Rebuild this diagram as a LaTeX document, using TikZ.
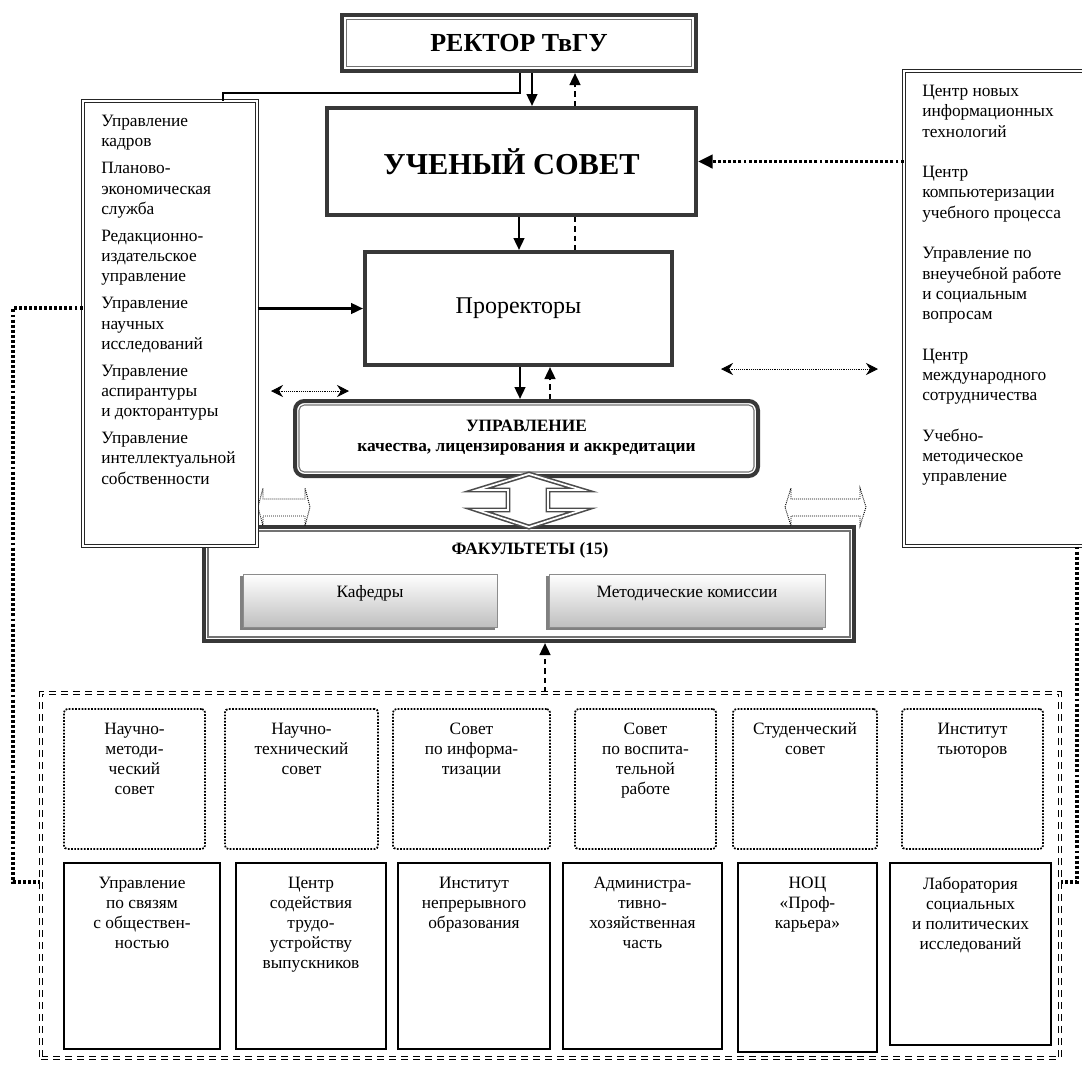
\documentclass[tikz,border=0pt]{standalone}
\usepackage{fontspec}
\setmainfont{Liberation Serif}
\usetikzlibrary{arrows.meta,fit,calc}
\tikzset{
  thickbox/.style={draw=black!78, line width=3pt, fill=white, inner sep=0pt},
  innerline/.style={draw=black!55, line width=0.8pt},
  dblthin/.style={draw=black!85, line width=0.75pt, double=white, double distance=1.3pt, fill=white, inner sep=0pt},
  dotbox/.style={draw=black, line width=1.3pt, dash pattern=on 1.3pt off 1.1pt, rounded corners=2.5pt, inner sep=0pt},
  solbox/.style={draw=black, line width=1.3pt, inner sep=0pt},
  contbox/.style={draw=black, line width=1pt, double=white, double distance=1.4pt, dash pattern=on 5.5pt off 3.5pt, inner sep=0pt},
  grbox/.style={draw=black!45, line width=0.6pt, top color=white, bottom color=black!25, inner sep=0pt},
  txt/.style={font=\fontsize{13}{15}\selectfont, inner sep=0pt, align=center},
  ltxt/.style={font=\fontsize{13}{15.2}\selectfont, inner sep=0pt, align=left},
  sarrow/.style={line width=1.8pt, -{Triangle[length=9pt,width=8pt]}},
  darrow/.style={line width=1.8pt, dash pattern=on 4pt off 3pt, -{Triangle[length=9pt,width=8pt]}},
  dline/.style={line width=1.5pt, dash pattern=on 4pt off 3pt},
  thickdot/.style={line width=2.6pt, dash pattern=on 2.2pt off 1.6pt},
  thindbl/.style={line width=0.6pt, dash pattern=on 0.6pt off 0.8pt, {Stealth[length=9pt,width=9pt,inset=3pt]}-{Stealth[length=9pt,width=9pt,inset=3pt]}},
  hollow/.style={draw=black!70, line width=1.2pt, double=white, double distance=1.3pt, line join=miter, fill=white},
  hollowdot/.style={draw=black, line width=0.7pt, dash pattern=on 0.7pt off 0.8pt, fill=white},
}
\begin{document}
\begin{tikzpicture}[x=0.75pt,y=-0.75pt]
\useasboundingbox (0,0) rectangle (1082,1068);
\fill[white] (0,0) rectangle (1082,1068);

% column helpers
\coordinate (x519) at (519,0);
\coordinate (x520) at (520,0);
\coordinate (x532) at (532,0);
\coordinate (x545) at (545,0);
\coordinate (x550) at (550,0);
\coordinate (x575) at (575,0);

% Rector
\node[thickbox, fit={(342,15)(696,71)}] (rect) {};
\draw[innerline] ($(rect.south west)+(5pt,5pt)$) rectangle ($(rect.north east)+(-5pt,-5pt)$);
\node[font=\fontsize{19.5}{22}\selectfont\bfseries, inner sep=0pt] (recttxt) at (rect.center) {РЕКТОР ТвГУ};

% Academic council
\node[thickbox, fit={(327,108)(696,215)}] (us) {};
\node[font=\fontsize{22.8}{26}\selectfont\bfseries, inner sep=0pt] (ustxt) at (us.center) {УЧЕНЫЙ СОВЕТ};

% Vice-rectors
\node[thickbox, fit={(365,252)(672,365)}] (pr) {};
\node[font=\fontsize{18}{20}\selectfont, inner sep=0pt] (prtxt) at (pr.center) {Проректоры};

% Quality management
\node[thickbox, rounded corners=7pt, fit={(295,401)(758,476)}] (upr) {};
\draw[innerline, rounded corners=4pt] ($(upr.south west)+(4.5pt,4.5pt)$) rectangle ($(upr.north east)+(-4.5pt,-4.5pt)$);
\node[align=center, font=\fontsize{13}{15}\selectfont\bfseries, inner sep=0pt] (uprtxt) at ([yshift=1pt]upr.center) {УПРАВЛЕНИЕ\\качества, лицензирования и аккредитации};

% Faculties
\node[thickbox, fit={(204,527)(854,641)}] (fac) {};
\draw[innerline] ($(fac.south west)+(4.5pt,4.5pt)$) rectangle ($(fac.north east)+(-4.5pt,-4.5pt)$);
\node[font=\fontsize{13}{15}\selectfont\bfseries, inner sep=0pt] (factitle) at (530,550) {ФАКУЛЬТЕТЫ (15)};
\fill[black!50] (240,576) rectangle (495,630);
\fill[black!50] (546,576) rectangle (823,630);
\node[grbox, fit={(243,574)(497,627)}] (kaf) {};
\node[grbox, fit={(549,574)(825,627)}] (met) {};
\node[txt] (kaftxt) at (370,593) {Кафедры};
\node[txt] (mettxt) at (687,593) {Методические комиссии};

% big hollow double arrow
\draw[hollow] (529,474) -- (582,490) -- (548,490) -- (548,510) -- (582,510) -- (529,527) -- (477,510) -- (508,510) -- (508,490) -- (477,490) -- cycle;

% small hollow dotted double arrows
\draw[hollowdot] (258,507) -- (263,488) -- (263,499) -- (305,499) -- (305,488) -- (310,507) -- (305,526) -- (305,516) -- (263,516) -- (263,526) -- cycle;
\draw[hollowdot] (785,507) -- (791,488) -- (791,499) -- (860,499) -- (860,488) -- (866,507) -- (860,526) -- (860,516) -- (791,516) -- (791,526) -- cycle;

% Left box
\node[dblthin, fit={(83,101)(257,546)}] (lbox) {};
\node[ltxt, anchor=north west] (ltx) at (101,115) {Управление\\кадров\\[5pt]Планово-\\экономическая\\служба\\[5pt]Редакционно-\\издательское\\управление\\[5pt]Управление\\научных\\исследований\\[5pt]Управление\\аспирантуры\\и докторантуры\\[5pt]Управление\\интеллектуальной\\собственности};

% Right box
\node[dblthin, fit={(904,71)(1100,546)}] (rbox) {};
\node[ltxt, anchor=north west] (rtx) at (922,85) {Центр новых\\информационных\\технологий\\[15.2pt]Центр\\компьютеризации\\учебного процесса\\[15.2pt]Управление по\\внеучебной работе\\и социальным\\вопросам\\[15.2pt]Центр\\международного\\сотрудничества\\[15.2pt]Учебно-\\методическое\\управление};

% Container of councils
\node[contbox, fit={(41,693)(1060,1058)}] (cont) {};

\foreach \n/\a/\b/\t in {
  r1a/64/205/{Научно-\\методи-\\ческий\\совет},
  r1b/225/378/{Научно-\\технический\\совет},
  r1c/393/550/{Совет\\по информа-\\тизации},
  r1d/575/716/{Совет\\по воспита-\\тельной\\работе},
  r1e/733/877/{Студенческий\\совет},
  r1f/902/1043/{Институт\\тьюторов}}
{
  \node[dotbox, fit={(\a,709)(\b,849)}] (\n) {};
  \node[txt, anchor=north] (\n t) at ([yshift=-11pt]\n.north) {\t};
}

\foreach \n/\a/\b/\c/\t in {
  r2a/64/220/1049/{Управление\\по связям\\с обществен-\\ностью},
  r2b/236/386/1049/{Центр\\содействия\\трудо-\\устройству\\выпускников},
  r2c/398/550/1049/{Институт\\непрерывного\\образования},
  r2d/563/722/1049/{Администра-\\тивно-\\хозяйственная\\часть},
  r2e/738/877/1052/{НОЦ\\«Проф-\\карьера»},
  r2f/890/1051/1045/{Лаборатория\\социальных\\и политических\\исследований}}
{
  \node[solbox, fit={(\a,863)(\b,\c)}] (\n) {};
  \node[txt, anchor=north] (\n t) at ([yshift=-11pt]\n.north) {\t};
}

% connectors
\coordinate (J1) at (223,93);
\coordinate (J2) at (520,93);
\draw[line width=1.6pt] (J1 |- lbox.north) -- (J1) -- (J2) -- (J2 |- rect.south);
\draw[sarrow] (rect.south -| x532) -- (us.north -| x532);
\draw[darrow] (us.north -| x575) -- (rect.south -| x575);
\draw[sarrow] (us.south -| x519) -- (pr.north -| x519);
\draw[dline] (us.south -| x575) -- (pr.north -| x575);
\draw[sarrow] (pr.south -| x520) -- (upr.north -| x520);
\draw[darrow] (upr.north -| x550) -- (pr.south -| x550);
\draw[sarrow] (lbox.east |- pr.center) -- (pr.west);
\draw[darrow] (cont.north -| x545) -- (fac.south -| x545);
\draw[thickdot, -{Triangle[length=11pt,width=10pt]}] (rbox.west |- us.center) -- (us.east);

\coordinate (A1) at (271,391);
\coordinate (A2) at (349,391);
\draw[thindbl] (A1) -- (A2);
\coordinate (B1) at (721,369);
\coordinate (B2) at (878,369);
\draw[thindbl] (B1) -- (B2);

\coordinate (L1) at (13,308);
\coordinate (L2) at (13,882);
\draw[thickdot] (lbox.west |- L1) -- (L1) -- (L2) -- (L2 -| cont.west);
\coordinate (R1) at (1077,882);
\draw[thickdot] (rbox.south -| R1) -- (R1) -- (R1 -| cont.east);
\end{tikzpicture}
\end{document}
